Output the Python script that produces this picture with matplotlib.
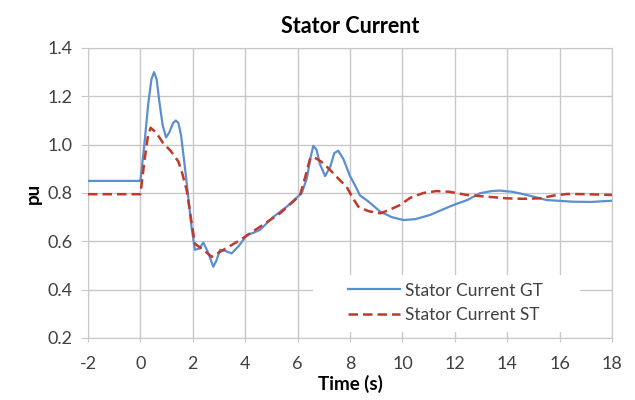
import matplotlib
matplotlib.use("Agg")
import matplotlib.pyplot as plt
from matplotlib.patches import Rectangle

plt.rcParams["font.family"] = ["Lato", "DejaVu Sans"]
plt.rcParams["axes.unicode_minus"] = False

# Stator current GT
t_gt = [-2, -0.05, 0.0, 0.15, 0.3, 0.42, 0.52, 0.62, 0.72, 0.85, 0.98, 1.1,
        1.25, 1.35, 1.45, 1.55, 1.65, 1.77, 1.95, 2.08, 2.25, 2.4, 2.6, 2.78,
        2.9, 3.04, 3.25, 3.48, 3.75, 4.06, 4.3, 4.56, 5.06, 5.58, 6.16, 6.35,
        6.5, 6.6, 6.72, 6.85, 7.05, 7.25, 7.4, 7.55, 7.75, 8.0, 8.2, 8.38,
        8.7, 9.15, 9.6, 10.04, 10.5, 11.05, 11.5, 11.94, 12.5, 12.96, 13.4, 13.7,
        14.2, 14.74, 15.5, 16.5, 17.2, 18]
i_gt = [0.85, 0.85, 0.85, 1.0, 1.17, 1.27, 1.30, 1.27, 1.18, 1.08, 1.03, 1.05,
        1.09, 1.10, 1.09, 1.04, 0.95, 0.84, 0.66, 0.565, 0.57, 0.595, 0.55, 0.495,
        0.52, 0.565, 0.56, 0.55, 0.58, 0.626, 0.635, 0.647, 0.70, 0.743, 0.80, 0.86,
        0.95, 0.995, 0.98, 0.92, 0.87, 0.91, 0.965, 0.975, 0.94, 0.87, 0.83, 0.79,
        0.765, 0.723, 0.70, 0.688, 0.692, 0.709, 0.73, 0.75, 0.772, 0.799, 0.808, 0.810,
        0.805, 0.792, 0.771, 0.764, 0.763, 0.768]

# Stator current ST
t_st = [-2, -0.05, 0.0, 0.15, 0.28, 0.39, 0.6, 0.87, 1.15, 1.45, 1.6, 1.77,
        1.95, 2.08, 2.4, 2.72, 3.17, 3.8, 4.56, 5.33, 6.09, 6.3, 6.47, 6.6,
        6.9, 7.2, 7.55, 7.87, 8.1, 8.32, 8.7, 9.15, 9.5, 9.9, 10.3, 10.8,
        11.3, 11.8, 12.45, 13.2, 13.98, 14.6, 15.25, 15.8, 16.3, 17.0, 18]
i_st = [0.795, 0.795, 0.795, 0.93, 1.03, 1.07, 1.05, 1.006, 0.975, 0.93, 0.88, 0.81,
        0.68, 0.59, 0.565, 0.536, 0.565, 0.605, 0.66, 0.716, 0.79, 0.87, 0.94, 0.95,
        0.93, 0.90, 0.86, 0.826, 0.78, 0.743, 0.725, 0.716, 0.73, 0.75, 0.78, 0.80,
        0.808, 0.805, 0.792, 0.785, 0.778, 0.776, 0.778, 0.79, 0.796, 0.795, 0.792]

fig = plt.figure(figsize=(6.35, 4.0), dpi=100)
ax = fig.add_axes([0.1386, 0.155, 0.8252, 0.725])

ax.plot(t_gt, i_gt, color="#5b8fcf", lw=1.6, label="Stator Current GT", zorder=3)
ax.plot(t_st, i_st, color="#c0392b", lw=1.8, ls=(0, (3.8, 2)),
        label="Stator Current ST", zorder=3)

ax.set_xlim(-2, 18)
ax.set_ylim(0.2, 1.4)
ax.set_xticks(range(-2, 19, 2))
ax.set_yticks([0.2, 0.4, 0.6, 0.8, 1.0, 1.2, 1.4])
ax.set_yticklabels(["0.2", "0.4", "0.6", "0.8", "1.0", "1.2", "1.4"])
ax.grid(True, color="#c8c8c8", lw=1.0)
ax.set_axisbelow(True)
for s in ax.spines.values():
    s.set_color("#c8c8c8")
ax.tick_params(axis="both", colors="#c8c8c8", labelcolor="#404040", labelsize=13)
ax.tick_params(axis="y", direction="out", length=5, pad=6)
ax.tick_params(axis="x", direction="inout", length=6, pad=10)

ax.set_title("Stator Current", fontsize=15.5, fontweight="bold", pad=11)
ax.set_xlabel("Time (s)", fontsize=13.5, fontweight="bold", labelpad=2)
ax.set_ylabel("pu", fontsize=13.5, fontweight="bold", labelpad=4)

# white legend area covering the grid
ax.add_patch(Rectangle((0.43, 0.02), 0.508, 0.197, transform=ax.transAxes,
                       facecolor="white", edgecolor="none", zorder=2))
leg = ax.legend(loc="center left", bbox_to_anchor=(0.496, 0.121), frameon=False,
                fontsize=12.5, handlelength=3.0, handletextpad=0.3,
                borderpad=0, borderaxespad=0, labelspacing=0.5)
for t in leg.get_texts():
    t.set_color("#404040")

fig.savefig("out.png", dpi=100)
